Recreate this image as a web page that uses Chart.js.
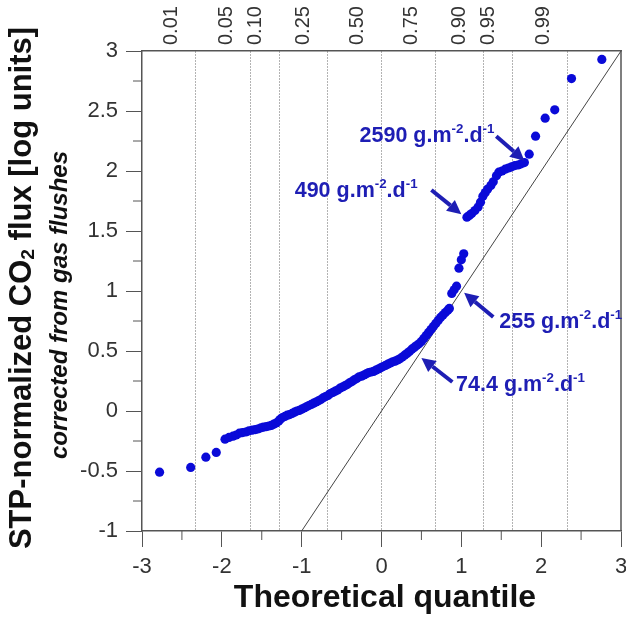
<!DOCTYPE html>
<html>
<head>
<meta charset="utf-8">
<script src="https://cdn.jsdelivr.net/npm/chart.js@4.4.1/dist/chart.umd.min.js"></script>
<style>
    body { margin: 0; background: #fff; }
</style>
</head>
<body>
<canvas id="qqChart" width="626" height="620"></canvas>
<script>
const qqX = [
    -2.78, -2.39, -2.20, -2.07,
    -1.96, -1.91, -1.86, -1.82, -1.78, -1.74, -1.70, -1.66, -1.62, -1.58,
    -1.55, -1.51, -1.48, -1.44, -1.41, -1.38, -1.35, -1.32, -1.29, -1.27,
    -1.24, -1.21, -1.18, -1.15, -1.12, -1.09, -1.06, -1.03, -1.00, -0.97,
    -0.94, -0.91, -0.88, -0.85, -0.82, -0.79, -0.76, -0.73, -0.70, -0.67,
    -0.64, -0.61, -0.58, -0.55, -0.52, -0.49, -0.46, -0.43, -0.40, -0.37,
    -0.34, -0.31, -0.28, -0.25, -0.22, -0.19, -0.16, -0.13, -0.10, -0.07,
    -0.04, -0.01, 0.02, 0.05, 0.08, 0.11, 0.14, 0.17, 0.20, 0.23,
    0.26, 0.29, 0.32, 0.35, 0.38, 0.41, 0.44, 0.47, 0.50, 0.53,
    0.56, 0.59, 0.62, 0.65, 0.68, 0.71, 0.74, 0.77, 0.80, 0.83, 0.85,
    0.88, 0.91, 0.94, 0.97, 1.00, 1.03,
    1.07, 1.10, 1.13, 1.17, 1.21, 1.24, 1.27, 1.30, 1.33, 1.37,
    1.40, 1.44, 1.47, 1.51, 1.55, 1.59, 1.63, 1.67, 1.71, 1.75, 1.79,
    1.85, 1.93, 2.05, 2.17, 2.38, 2.76
];
const qqY = [
    -0.51, -0.47, -0.385, -0.345,
    -0.235, -0.22, -0.21, -0.20, -0.185, -0.18, -0.175, -0.165, -0.16, -0.155,
    -0.15, -0.14, -0.135, -0.13, -0.125, -0.12, -0.11, -0.10, -0.085, -0.07,
    -0.055, -0.045, -0.035, -0.03, -0.02, -0.01, 0.0, 0.005, 0.015, 0.025,
    0.035, 0.045, 0.055, 0.065, 0.075, 0.085, 0.095, 0.11, 0.12, 0.13,
    0.145, 0.155, 0.165, 0.175, 0.19, 0.20, 0.21, 0.22, 0.235, 0.245,
    0.26, 0.27, 0.285, 0.29, 0.30, 0.31, 0.32, 0.325, 0.33, 0.34,
    0.35, 0.36, 0.37, 0.38, 0.39, 0.40, 0.41, 0.415, 0.425, 0.435,
    0.45, 0.465, 0.48, 0.495, 0.515, 0.53, 0.545, 0.56, 0.58, 0.605,
    0.63, 0.655, 0.68, 0.705, 0.73, 0.755, 0.78, 0.80, 0.82, 0.84, 0.855,
    0.98, 1.01, 1.04, 1.19, 1.26, 1.31,
    1.615, 1.63, 1.645, 1.67, 1.70, 1.74, 1.79, 1.82, 1.85, 1.88,
    1.91, 1.96, 1.99, 2.00, 2.015, 2.025, 2.035, 2.045, 2.05, 2.06, 2.07,
    2.14, 2.29, 2.44, 2.51, 2.77, 2.93
];

// Recta de referencia y = x
const refX = [-1, 3];
const refY = [-1, 3];

// Líneas de probabilidad (eje superior)
const probAt = [-2.326, -1.645, -1.282, -0.674, 0, 0.674, 1.282, 1.645, 2.326];
const probLabels = ['0.01', '0.05', '0.10', '0.25', '0.50', '0.75', '0.90', '0.95', '0.99'];

// Marcas menores
const xMinor = [-2.5, -1.5, -0.5, 0.5, 1.5, 2.5];
const yMinor = [-0.75, -0.25, 0.25, 0.75, 1.25, 1.75, 2.25, 2.75];

// Anotaciones (texto en azul con flecha), en unidades de datos
const notas = [
    { valor: '2590', x: -0.275, y: 2.244, desde: [1.4375, 2.29], hasta: [1.79, 2.085] },
    { valor: '490', x: -1.0875, y: 1.786, desde: [0.625, 1.842], hasta: [1.0, 1.64] },
    { valor: '255', x: 1.475, y: 0.69, desde: [1.40, 0.783], hasta: [1.035, 0.985] },
    { valor: '74.4', x: 0.934, y: 0.169, desde: [0.8875, 0.242], hasta: [0.50, 0.442] }
];

const FUENTE = '"Liberation Sans", Arial, sans-serif';
const AZUL_PUNTOS = '#0a0ad8';
const AZUL_TEXTO = '#1e1eb4';
const GRIS_EJE = '#555';

// Dibuja texto con partes normales, superíndices o subíndices
function textoRico(ctx, partes, x, y, tam, estilo, centrar) {
    let total = 0;
    partes.forEach(p => {
        const t = p.sup || p.sub ? tam * 0.62 : tam;
        ctx.font = estilo + ' ' + t + 'px ' + FUENTE;
        p.ancho = ctx.measureText(p.t).width;
        total += p.ancho;
    });
    let cx = centrar ? x - total / 2 : x;
    partes.forEach(p => {
        const t = p.sup || p.sub ? tam * 0.62 : tam;
        ctx.font = estilo + ' ' + t + 'px ' + FUENTE;
        let dy = 0;
        if (p.sup) dy = -tam * 0.42;
        if (p.sub) dy = tam * 0.2;
        ctx.fillText(p.t, cx, y + dy);
        cx += p.ancho;
    });
}

function flecha(ctx, x1, y1, x2, y2) {
    const ang = Math.atan2(y2 - y1, x2 - x1);
    const largo = 14, medio = 7;
    const bx = x2 - largo * Math.cos(ang);
    const by = y2 - largo * Math.sin(ang);
    ctx.lineWidth = 4;
    ctx.beginPath();
    ctx.moveTo(x1, y1);
    ctx.lineTo(bx, by);
    ctx.stroke();
    ctx.beginPath();
    ctx.moveTo(x2, y2);
    ctx.lineTo(bx + medio * Math.sin(ang), by - medio * Math.cos(ang));
    ctx.lineTo(bx - medio * Math.sin(ang), by + medio * Math.cos(ang));
    ctx.closePath();
    ctx.fill();
}

function sinRelleno(eje) {
    eje.paddingLeft = 0;
    eje.paddingRight = 0;
    eje.paddingTop = 0;
    eje.paddingBottom = 0;
}

const extras = {
    id: 'extras',
    afterDraw(chart) {
        const ctx = chart.ctx;
        const xs = chart.scales.x;
        const ys = chart.scales.y;
        const area = chart.chartArea;
        ctx.save();

        // Marco derecho
        ctx.strokeStyle = GRIS_EJE;
        ctx.lineWidth = 1.5;
        ctx.beginPath();
        ctx.moveTo(area.right, area.top);
        ctx.lineTo(area.right, area.bottom);
        ctx.stroke();

        // Marcas menores
        ctx.lineWidth = 1;
        xMinor.forEach(v => {
            const px = xs.getPixelForValue(v);
            ctx.beginPath();
            ctx.moveTo(px, area.bottom);
            ctx.lineTo(px, area.bottom + 9);
            ctx.stroke();
        });
        yMinor.forEach(v => {
            const py = ys.getPixelForValue(v);
            ctx.beginPath();
            ctx.moveTo(area.left, py);
            ctx.lineTo(area.left - 9, py);
            ctx.stroke();
        });

        // Anotaciones
        ctx.fillStyle = AZUL_TEXTO;
        ctx.strokeStyle = AZUL_TEXTO;
        ctx.textBaseline = 'alphabetic';
        ctx.textAlign = 'left';
        notas.forEach(n => {
            textoRico(ctx, [
                { t: n.valor + ' g.m' }, { t: '-2', sup: true },
                { t: '.d' }, { t: '-1', sup: true }
            ], xs.getPixelForValue(n.x), ys.getPixelForValue(n.y), 21.5, 'bold', false);
            flecha(ctx,
                xs.getPixelForValue(n.desde[0]), ys.getPixelForValue(n.desde[1]),
                xs.getPixelForValue(n.hasta[0]), ys.getPixelForValue(n.hasta[1]));
        });

        // Títulos de ejes
        ctx.fillStyle = '#111';
        ctx.textBaseline = 'middle';
        ctx.font = 'bold 32px ' + FUENTE;
        ctx.textAlign = 'center';
        ctx.fillText('Theoretical quantile', 385, 598);

        ctx.textAlign = 'left';
        ctx.save();
        ctx.translate(22, 288);
        ctx.rotate(-Math.PI / 2);
        textoRico(ctx, [
            { t: 'STP-normalized CO' }, { t: '2', sub: true }, { t: ' flux [log units]' }
        ], 0, 0, 31, 'bold', true);
        ctx.restore();

        ctx.save();
        ctx.translate(60, 305);
        ctx.rotate(-Math.PI / 2);
        textoRico(ctx, [{ t: 'corrected from gas flushes' }], 0, 0, 24, 'italic bold', true);
        ctx.restore();

        ctx.restore();
    }
};

document.addEventListener('DOMContentLoaded', function () {
    const ctx = document.getElementById('qqChart').getContext('2d');
    const fuenteTicks = { family: FUENTE, size: 22 };

    new Chart(ctx, {
        type: 'scatter',
        data: {
            datasets: [{
                data: qqX.map((x, i) => ({ x: x, y: qqY[i] })),
                pointRadius: 4.6,
                pointHoverRadius: 4.6,
                pointBackgroundColor: AZUL_PUNTOS,
                pointBorderWidth: 0,
                order: 0
            }, {
                type: 'line',
                data: refX.map((x, i) => ({ x: x, y: refY[i] })),
                borderColor: '#444',
                borderWidth: 1,
                pointRadius: 0,
                fill: false,
                order: 1
            }]
        },
        options: {
            responsive: false,
            animation: false,
            layout: { padding: { left: 0, right: 5, top: 0, bottom: 0 } },
            plugins: {
                legend: { display: false },
                tooltip: { enabled: false }
            },
            scales: {
                x: {
                    type: 'linear',
                    position: 'bottom',
                    min: -3,
                    max: 3,
                    ticks: { stepSize: 1, font: fuenteTicks, color: '#333', padding: 7 },
                    grid: { drawOnChartArea: false, tickLength: 16, color: GRIS_EJE },
                    border: { color: GRIS_EJE, width: 1.5 },
                    afterFit: function (eje) { eje.height = 89; sinRelleno(eje); }
                },
                prob: {
                    type: 'linear',
                    position: 'top',
                    min: -3,
                    max: 3,
                    afterBuildTicks: function (eje) {
                        eje.ticks = probAt.map(v => ({ value: v }));
                    },
                    ticks: {
                        autoSkip: false,
                        minRotation: 90,
                        maxRotation: 90,
                        padding: 6,
                        color: '#333',
                        font: { family: FUENTE, size: 20 },
                        callback: function (valor, i) { return probLabels[i]; }
                    },
                    grid: { drawOnChartArea: true, drawTicks: false, color: '#666', lineWidth: 1 },
                    border: { color: GRIS_EJE, width: 1.5, dash: [1, 2] },
                    afterFit: function (eje) { eje.height = 51; sinRelleno(eje); }
                },
                y: {
                    min: -1,
                    max: 3,
                    ticks: {
                        stepSize: 0.5, font: fuenteTicks, color: '#333', padding: 8,
                        callback: function (valor) { return String(valor); }
                    },
                    grid: { drawOnChartArea: false, tickLength: 16, color: GRIS_EJE },
                    border: { color: GRIS_EJE, width: 1.5 },
                    afterFit: function (eje) { eje.width = 142; sinRelleno(eje); }
                }
            }
        },
        plugins: [extras]
    });
});
</script>
</body>
</html>
